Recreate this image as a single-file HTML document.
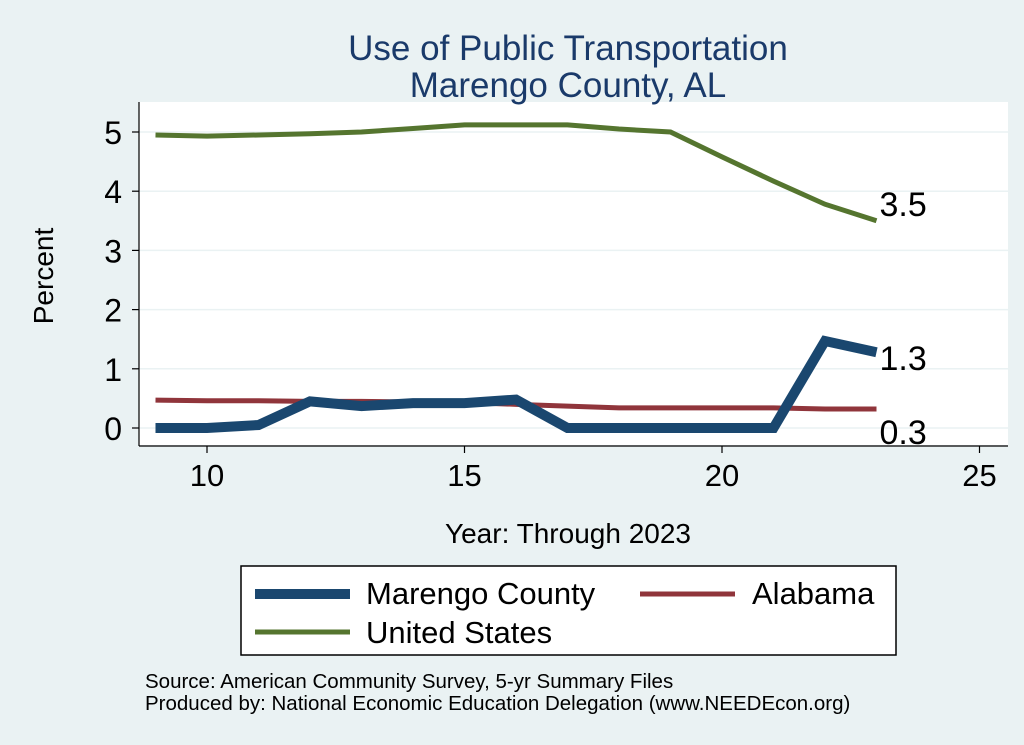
<!DOCTYPE html>
<html><head><meta charset="utf-8"><style>
body{margin:0;background:#eaf2f3;}
svg{display:block;font-family:"Liberation Sans",sans-serif;}
</style></head><body>
<svg width="1024" height="745">
<rect x="0" y="0" width="1024" height="745" fill="#eaf2f3"/>
<rect x="139" y="102" width="869" height="343" fill="#fff"/>
<text x="568" y="60" font-size="35" fill="#1a3a6a" text-anchor="middle">Use of Public Transportation</text>
<text x="568" y="97" font-size="35" fill="#1a3a6a" text-anchor="middle">Marengo County, AL</text>
<g id="grid"></g>
<g id="axes"></g>
<g id="series"></g>
<text x="53" y="276" font-size="28" text-anchor="middle" transform="rotate(-90 53 276)">Percent</text>
<text x="568" y="543" font-size="28" text-anchor="middle">Year: Through 2023</text>
<g>
<rect x="241" y="566" width="655" height="89" fill="#fff" stroke="#000" stroke-width="1.5"/>
<line x1="255" y1="594" x2="350" y2="594" stroke="#1a476f" stroke-width="10"/>
<text x="366" y="604" font-size="31">Marengo County</text>
<line x1="640" y1="594" x2="735" y2="594" stroke="#90353b" stroke-width="5"/>
<text x="752" y="604" font-size="31">Alabama</text>
<line x1="255" y1="632" x2="350" y2="632" stroke="#55752f" stroke-width="5"/>
<text x="366" y="643" font-size="31">United States</text>
</g>
<text x="145" y="688" font-size="20.5">Source: American Community Survey, 5-yr Summary Files</text>
<text x="145" y="710" font-size="20.5">Produced by: National Economic Education Delegation (www.NEEDEcon.org)</text>
</svg>
<script>
const years=[9,10,11,12,13,14,15,16,17,18,19,20,21,22,23];
const marengo=[0,0,0.05,0.45,0.37,0.42,0.42,0.48,0,0,0,0,0,1.47,1.28];
const alabama=[0.47,0.46,0.46,0.45,0.45,0.44,0.43,0.40,0.37,0.34,0.34,0.34,0.34,0.32,0.32];
const us=[4.95,4.93,4.95,4.97,5.0,5.06,5.12,5.12,5.12,5.05,5.0,4.58,4.17,3.78,3.5];
const xTicks=[10,15,20,25];
const yTicks=[0,1,2,3,4,5];
const endLabels=["1.3","0.3","3.5"];
const NS="http://www.w3.org/2000/svg";
const X=v=>207+(v-10)*51.5;
const Y=v=>428-v*59.2;
function mk(t,a,p){const e=document.createElementNS(NS,t);for(const k in a)e.setAttribute(k,a[k]);p.appendChild(e);return e;}
const grid=document.getElementById('grid'),axes=document.getElementById('axes'),ser=document.getElementById('series');
yTicks.forEach(t=>{
 const g=mk('line',{x1:139,x2:1008,y1:Y(t),y2:Y(t),stroke:'#eaf2f3','stroke-width':1.5},grid);
 
 
 mk('line',{x1:132,x2:139,y1:Y(t),y2:Y(t),stroke:'#000','stroke-width':1.2},axes);
 const l=mk('text',{x:122,y:Y(t)+12,'font-size':32,'text-anchor':'end'},axes);l.textContent=t;
 
 
});
mk('line',{x1:139,x2:139,y1:102,y2:446,stroke:'#000','stroke-width':1.2},axes);
mk('line',{x1:139,x2:1008,y1:446,y2:446,stroke:'#000','stroke-width':1.2},axes);
xTicks.forEach(t=>{
 mk('line',{x1:X(t),x2:X(t),y1:446,y2:453,stroke:'#000','stroke-width':1.2},axes);
 const l=mk('text',{x:X(t),y:486,'font-size':31,'text-anchor':'middle'},axes);l.textContent=t;
 
 
});
function line(vals,col,w,name){
 const p=mk('polyline',{points:years.map((y,i)=>X(y)+','+Y(vals[i])).join(' '),fill:'none',stroke:col,'stroke-width':w,'stroke-linejoin':'miter'},ser);
 
 
}
line(us,'#55752f',5,'line-united-states');
line(alabama,'#90353b',5,'line-alabama');
line(marengo,'#1a476f',10,'line-marengo-county');
const last=years.length-1;
[[marengo,18],[alabama,35],[us,-5]].forEach(([v,dy],i)=>{
 const t=mk('text',{x:X(years[last])+3,y:Y(v[last])+dy,'font-size':34},ser);t.textContent=endLabels[i];
 
 
});
</script>
</body></html>
